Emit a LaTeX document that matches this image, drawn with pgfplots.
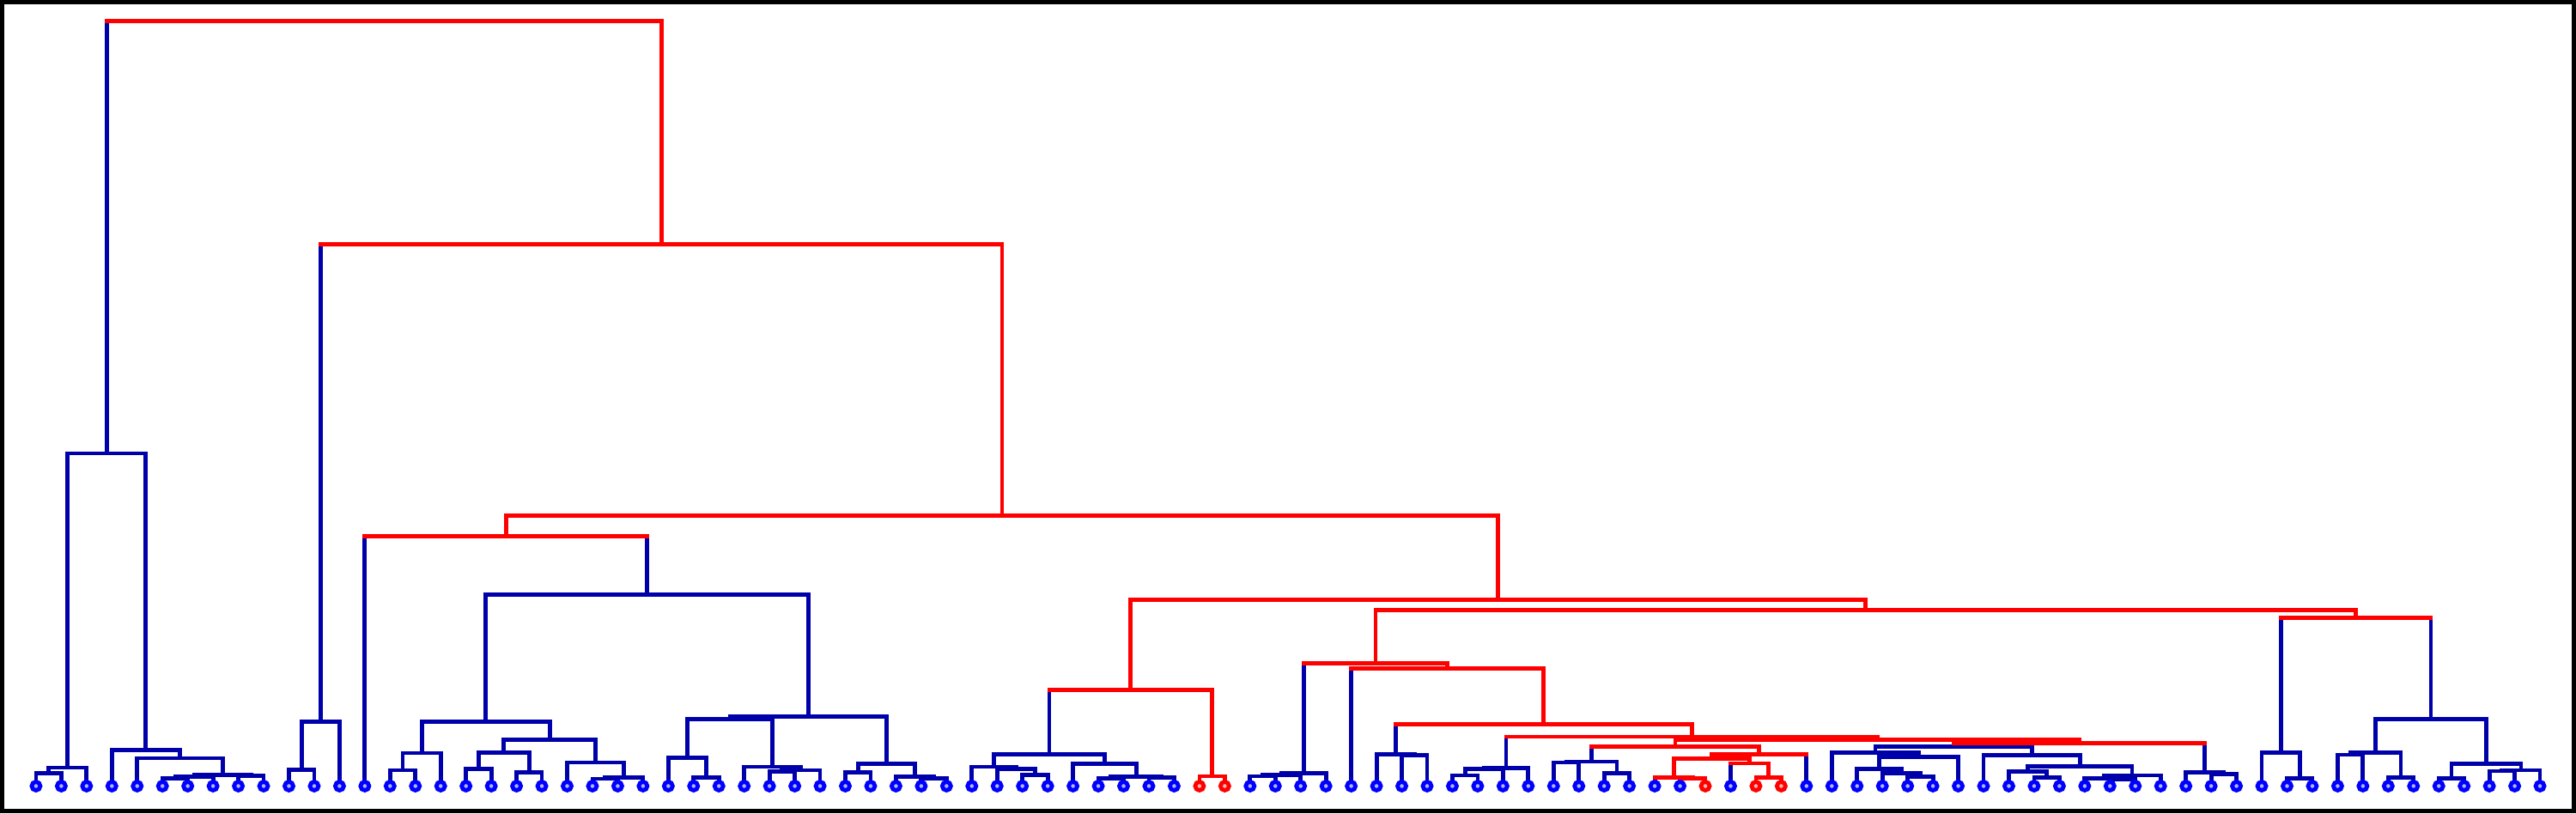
\documentclass[border=0pt]{standalone}
\usepackage{pgfplots}
\pgfplotsset{compat=1.18}
\definecolor{lineblue}{RGB}{0,0,170}
\definecolor{linered}{RGB}{255,0,0}
\definecolor{markblue}{RGB}{0,0,255}
\definecolor{markfillb}{RGB}{175,180,255}
\definecolor{markfillr}{RGB}{255,180,180}
\pgfplotsset{
  bl/.style={draw=lineblue, line width=0.48mm, line cap=rect, no marks},
  rd/.style={draw=linered, line width=0.48mm, line cap=rect, no marks},
}
\begin{document}
\begin{tikzpicture}
\begin{axis}[width=299.5mm, height=94.2mm, scale only axis,
  xmin=-1.339, xmax=100.34, ymin=-29.05, ymax=913.45,
  axis line style={line width=0.5mm, black}, ticks=none]
% ---- blue links (merge height above leaf baseline) ----
\addplot[bl] coordinates {(0,0)(0,15)(1,15)(1,0)};
\addplot[bl] coordinates {(0.5,15)(0.5,21.4)(2,21.4)(2,0)};
\addplot[bl] coordinates {(5,0)(5,9)(6,9)(6,0)};
\addplot[bl] coordinates {(5.5,9)(5.5,10.7)(7,10.7)(7,0)};
\addplot[bl] coordinates {(8,0)(8,11.7)(9,11.7)(9,0)};
\addplot[bl] coordinates {(6.25,10.7)(6.25,13)(8.5,13)(8.5,11.7)};
\addplot[bl] coordinates {(4,0)(4,32.4)(7.375,32.4)(7.375,13)};
\addplot[bl] coordinates {(3,0)(3,41.7)(5.6875,41.7)(5.6875,32.4)};
\addplot[bl] coordinates {(1.25,21.4)(1.25,387.7)(4.34375,387.7)(4.34375,41.7)};
\addplot[bl] coordinates {(10,0)(10,19)(11,19)(11,0)};
\addplot[bl] coordinates {(10.5,19)(10.5,74.7)(12,74.7)(12,0)};
\addplot[bl] coordinates {(14,0)(14,18.4)(15,18.4)(15,0)};
\addplot[bl] coordinates {(14.5,18.4)(14.5,38.4)(16,38.4)(16,0)};
\addplot[bl] coordinates {(17,0)(17,19.7)(18,19.7)(18,0)};
\addplot[bl] coordinates {(19,0)(19,15.7)(20,15.7)(20,0)};
\addplot[bl] coordinates {(17.5,19.7)(17.5,39)(19.5,39)(19.5,15.7)};
\addplot[bl] coordinates {(22,0)(22,8.4)(23,8.4)(23,0)};
\addplot[bl] coordinates {(22.5,8.4)(22.5,9.7)(24,9.7)(24,0)};
\addplot[bl] coordinates {(21,0)(21,27.4)(23.25,27.4)(23.25,9.7)};
\addplot[bl] coordinates {(18.5,39)(18.5,54)(22.125,54)(22.125,27.4)};
\addplot[bl] coordinates {(15.25,38.4)(15.25,74.7)(20.3125,74.7)(20.3125,54)};
\addplot[bl] coordinates {(26,0)(26,9.7)(27,9.7)(27,0)};
\addplot[bl] coordinates {(25,0)(25,33)(26.5,33)(26.5,9.7)};
\addplot[bl] coordinates {(29,0)(29,17.2)(30,17.2)(30,0)};
\addplot[bl] coordinates {(29.5,17.2)(29.5,18.4)(31,18.4)(31,0)};
\addplot[bl] coordinates {(28,0)(28,22.4)(30.25,22.4)(30.25,18.4)};
\addplot[bl] coordinates {(25.75,33)(25.75,78.4)(29.125,78.4)(29.125,22.4)};
\addplot[bl] coordinates {(32,0)(32,15.7)(33,15.7)(33,0)};
\addplot[bl] coordinates {(35,0)(35,9)(36,9)(36,0)};
\addplot[bl] coordinates {(34,0)(34,10.7)(35.5,10.7)(35.5,9)};
\addplot[bl] coordinates {(32.5,15.7)(32.5,25.7)(34.75,25.7)(34.75,10.7)};
\addplot[bl] coordinates {(27.4375,78.4)(27.4375,81.4)(33.625,81.4)(33.625,25.7)};
\addplot[bl] coordinates {(17.78125,74.7)(17.78125,223.4)(30.53125,223.4)(30.53125,81.4)};
\addplot[bl] coordinates {(39,0)(39,13)(40,13)(40,0)};
\addplot[bl] coordinates {(38,0)(38,19.7)(39.5,19.7)(39.5,13)};
\addplot[bl] coordinates {(37,0)(37,22.4)(38.75,22.4)(38.75,19.7)};
\addplot[bl] coordinates {(42,0)(42,9)(43,9)(43,0)};
\addplot[bl] coordinates {(44,0)(44,9.7)(45,9.7)(45,0)};
\addplot[bl] coordinates {(42.5,9)(42.5,10.7)(44.5,10.7)(44.5,9.7)};
\addplot[bl] coordinates {(41,0)(41,25.7)(43.5,25.7)(43.5,10.7)};
\addplot[bl] coordinates {(37.875,22.4)(37.875,36.7)(42.25,36.7)(42.25,25.7)};
\addplot[bl] coordinates {(48,0)(48,11.4)(49,11.4)(49,0)};
\addplot[bl] coordinates {(48.5,11.4)(48.5,13.2)(50,13.2)(50,0)};
\addplot[bl] coordinates {(49.25,13.2)(49.25,15)(51,15)(51,0)};
\addplot[bl] coordinates {(54,0)(54,35.7)(55,35.7)(55,0)};
\addplot[bl] coordinates {(53,0)(53,36.7)(54.5,36.7)(54.5,35.7)};
\addplot[bl] coordinates {(56,0)(56,12.4)(57,12.4)(57,0)};
\addplot[bl] coordinates {(56.5,12.4)(56.5,20)(58,20)(58,0)};
\addplot[bl] coordinates {(57.25,20)(57.25,20.7)(59,20.7)(59,0)};
\addplot[bl] coordinates {(60,0)(60,27.4)(61,27.4)(61,0)};
\addplot[bl] coordinates {(62,0)(62,15)(63,15)(63,0)};
\addplot[bl] coordinates {(60.5,27.4)(60.5,28.4)(62.5,28.4)(62.5,15)};
\addplot[bl] coordinates {(74,0)(74,10.7)(75,10.7)(75,0)};
\addplot[bl] coordinates {(73,0)(73,15)(74.5,15)(74.5,10.7)};
\addplot[bl] coordinates {(72,0)(72,19.7)(73.75,19.7)(73.75,15)};
\addplot[bl] coordinates {(72.875,19.7)(72.875,34)(76,34)(76,0)};
\addplot[bl] coordinates {(71,0)(71,39)(74.4375,39)(74.4375,34)};
\addplot[bl] coordinates {(79,0)(79,9.7)(80,9.7)(80,0)};
\addplot[bl] coordinates {(78,0)(78,16.7)(79.5,16.7)(79.5,9.7)};
\addplot[bl] coordinates {(82,0)(82,7.7)(83,7.7)(83,0)};
\addplot[bl] coordinates {(81,0)(81,9)(82.5,9)(82.5,7.7)};
\addplot[bl] coordinates {(81.75,9)(81.75,12.4)(84,12.4)(84,0)};
\addplot[bl] coordinates {(78.75,16.7)(78.75,23)(82.875,23)(82.875,12.4)};
\addplot[bl] coordinates {(77,0)(77,35.7)(80.8125,35.7)(80.8125,23)};
\addplot[bl] coordinates {(72.71875,39)(72.71875,45.7)(78.90625,45.7)(78.90625,35.7)};
\addplot[bl] coordinates {(86,0)(86,13.7)(87,13.7)(87,0)};
\addplot[bl] coordinates {(85,0)(85,15.7)(86.5,15.7)(86.5,13.7)};
\addplot[bl] coordinates {(89,0)(89,9)(90,9)(90,0)};
\addplot[bl] coordinates {(88,0)(88,39)(89.5,39)(89.5,9)};
\addplot[bl] coordinates {(91,0)(91,36.4)(92,36.4)(92,0)};
\addplot[bl] coordinates {(93,0)(93,9.7)(94,9.7)(94,0)};
\addplot[bl] coordinates {(91.5,36.4)(91.5,39)(93.5,39)(93.5,9.7)};
\addplot[bl] coordinates {(95,0)(95,9)(96,9)(96,0)};
\addplot[bl] coordinates {(97,0)(97,17.4)(98,17.4)(98,0)};
\addplot[bl] coordinates {(97.5,17.4)(97.5,18.4)(99,18.4)(99,0)};
\addplot[bl] coordinates {(95.5,9)(95.5,25.7)(98.25,25.7)(98.25,18.4)};
\addplot[bl] coordinates {(92.5,39)(92.5,78.4)(96.875,78.4)(96.875,25.7)};
% ---- blue legs under red links ----
\addplot[bl] coordinates {(13,0)(13,291.4)};
\addplot[bl] coordinates {(24.15625,223.4)(24.15625,291.4)};
\addplot[bl] coordinates {(40.0625,36.7)(40.0625,112.1)};
\addplot[bl] coordinates {(65,0)(65,9)};
\addplot[bl] coordinates {(64,0)(64,10)};
\addplot[bl] coordinates {(67,0)(67,26.4)};
\addplot[bl] coordinates {(70,0)(70,36.7)};
\addplot[bl] coordinates {(61.5,28.4)(61.5,45.7)};
\addplot[bl] coordinates {(75.8125,45.7)(75.8125,50)};
\addplot[bl] coordinates {(85.75,15.7)(85.75,50)};
\addplot[bl] coordinates {(58.125,20.7)(58.125,57.4)};
\addplot[bl] coordinates {(53.75,36.7)(53.75,72.4)};
\addplot[bl] coordinates {(52,0)(52,136.7)};
\addplot[bl] coordinates {(50.125,15)(50.125,143.4)};
\addplot[bl] coordinates {(88.75,39)(88.75,195.7)};
\addplot[bl] coordinates {(94.6875,78.4)(94.6875,195.7)};
\addplot[bl] coordinates {(11.25,74.7)(11.25,631.4)};
\addplot[bl] coordinates {(2.796875,387.7)(2.796875,891.4)};
% ---- red links ----
\addplot[rd] coordinates {(46,0)(46,11.4)(47,11.4)(47,0)};
\addplot[rd] coordinates {(68,0)(68,10)(69,10)(69,0)};
\addplot[rd] coordinates {(64.75,10)(64.75,31.7)(67.75,31.7)(67.75,26.4)};
\addplot[rd] coordinates {(64.8125,45.7)(64.8125,54)(80.78125,54)(80.78125,50)};
\addplot[rd] coordinates {(52.9639,143.4)(52.9639,205)(91.71875,205)(91.71875,195.7)};
\addplot[rd] coordinates {(43.28125,112.1)(43.28125,216.7)(72.3413,216.7)(72.3413,205)};
\addplot[rd] coordinates {(18.578125,291.4)(18.578125,314.9)(57.8113,314.9)(57.8113,216.7)};
\addplot[rd] coordinates {(13,291.4)(24.15625,291.4)};
\addplot[rd] coordinates {(40.0625,112.1)(46.5,112.1)(46.5,11.4)};
\addplot[rd] coordinates {(65,9)(66,9)(66,0)};
\addplot[rd] coordinates {(64,10)(65.5,10)(65.5,9)};
\addplot[rd] coordinates {(67,26.4)(68.5,26.4)(68.5,10)};
\addplot[rd] coordinates {(66.25,31.7)(66.25,36.7)(70,36.7)};
\addplot[rd] coordinates {(61.5,45.7)(68.125,45.7)(68.125,36.7)};
\addplot[rd] coordinates {(75.8125,50)(85.75,50)};
\addplot[rd] coordinates {(58.125,57.4)(72.796875,57.4)(72.796875,54)};
\addplot[rd] coordinates {(53.75,72.4)(65.4609,72.4)(65.4609,57.4)};
\addplot[rd] coordinates {(52,136.7)(59.6055,136.7)(59.6055,72.4)};
\addplot[rd] coordinates {(50.125,143.4)(55.8027,143.4)(55.8027,136.7)};
\addplot[rd] coordinates {(88.75,195.7)(94.6875,195.7)};
\addplot[rd] coordinates {(11.25,631.4)(38.1947,631.4)(38.1947,314.9)};
\addplot[rd] coordinates {(2.796875,891.4)(24.7224,891.4)(24.7224,631.4)};
% ---- leaves ----
\addplot[only marks, mark=*, mark size=0.5mm,
  mark options={draw=markblue, fill=markfillb, line width=0.48mm}]
  coordinates {(0,0)(1,0)(2,0)(3,0)(4,0)(5,0)(6,0)(7,0)(8,0)(9,0)
  (10,0)(11,0)(12,0)(13,0)(14,0)(15,0)(16,0)(17,0)(18,0)(19,0)
  (20,0)(21,0)(22,0)(23,0)(24,0)(25,0)(26,0)(27,0)(28,0)(29,0)
  (30,0)(31,0)(32,0)(33,0)(34,0)(35,0)(36,0)(37,0)(38,0)(39,0)
  (40,0)(41,0)(42,0)(43,0)(44,0)(45,0)(48,0)(49,0)
  (50,0)(51,0)(52,0)(53,0)(54,0)(55,0)(56,0)(57,0)(58,0)(59,0)
  (60,0)(61,0)(62,0)(63,0)(64,0)(65,0)(67,0)
  (70,0)(71,0)(72,0)(73,0)(74,0)(75,0)(76,0)(77,0)(78,0)(79,0)
  (80,0)(81,0)(82,0)(83,0)(84,0)(85,0)(86,0)(87,0)(88,0)(89,0)
  (90,0)(91,0)(92,0)(93,0)(94,0)(95,0)(96,0)(97,0)(98,0)(99,0)};
\addplot[only marks, mark=*, mark size=0.5mm,
  mark options={draw=linered, fill=markfillr, line width=0.48mm}]
  coordinates {(46,0)(47,0)(66,0)(68,0)(69,0)};
\end{axis}
\end{tikzpicture}
\end{document}
